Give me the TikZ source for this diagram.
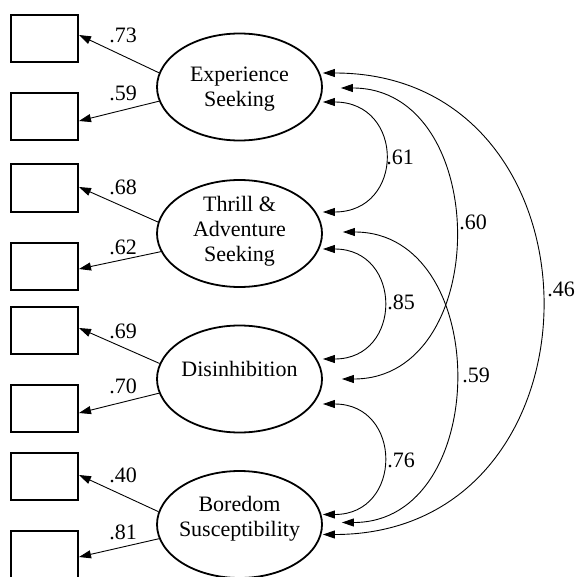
\documentclass[tikz,border=0pt]{standalone}
\usepackage{fontspec}
\setmainfont{Liberation Serif}
\usetikzlibrary{shapes.geometric,arrows.meta}
\begin{document}
\begin{tikzpicture}[x=1pt,y=-1pt,
  obs/.style={draw,line width=2pt,minimum width=67pt,minimum height=47pt,inner sep=0pt},
  lat/.style={draw,ellipse,line width=1.8pt,minimum width=165pt,minimum height=107pt,inner sep=0pt},
  lbl/.style={inner sep=0pt,font=\fontsize{22}{25}\selectfont},
  ttl/.style={inner sep=0pt,align=center,font=\fontsize{22}{25}\selectfont},
  tipA/.tip={Triangle[length=12pt,width=8pt]},
  load/.style={-tipA,line width=0.9pt},
  cov/.style={tipA-tipA,line width=0.9pt}]
\useasboundingbox (0,0) rectangle (576,577);
\clip (0,0) rectangle (576,577);
\fill[white] (0,0) rectangle (576,577);

% observed variables
\node[obs] (b1) at (44.5,38.5) {};
\node[obs] (b2) at (44.5,116.5) {};
\node[obs] (b3) at (44.5,188) {};
\node[obs] (b4) at (44.5,266) {};
\node[obs] (b5) at (44.5,330) {};
\node[obs] (b6) at (44.5,408.5) {};
\node[obs] (b7) at (44.5,476.5) {};
\node[obs] (b8) at (44.5,554.5) {};

% latent variables
\node[lat] (e1) at (239.5,87) {};
\node[lat] (e2) at (239.5,233.5) {};
\node[lat] (e3) at (239.5,379) {};
\node[lat] (e4) at (239.5,524.5) {};
\node[ttl] (t1) at (239.5,89.5) {Experience\\Seeking};
\node[ttl] (t2) at (239.5,231) {Thrill \&\\Adventure\\Seeking};
\node[ttl] (t3) at (239.5,368.5) {Disinhibition};
\node[ttl] (t4) at (239.5,519) {Boredom\\Susceptibility};

% loadings
\draw[load] (e1.170) -- ([yshift=3.5pt]b1.east);
\draw[load] (e1.190) -- ([yshift=-4.5pt]b2.east);
\draw[load] (e2.172) -- ([yshift=1pt]b3.east);
\draw[load] (e2.193) -- ([yshift=-3pt]b4.east);
\draw[load] (e3.169.5) -- ([yshift=2pt]b5.east);
\draw[load] (e3.190.5) -- ([yshift=-4.5pt]b6.east);
\draw[load] (e4.171) -- ([yshift=1.5pt]b7.east);
\draw[load] (e4.190.5) -- ([yshift=-2.5pt]b8.east);

\node[lbl] (l1) at (123,35.5) {.73};
\node[lbl] (l2) at (123,93) {.59};
\node[lbl] (l3) at (123,187) {.68};
\node[lbl] (l4) at (123,247) {.62};
\node[lbl] (l5) at (123,331) {.69};
\node[lbl] (l6) at (123,386) {.70};
\node[lbl] (l7) at (123,475) {.40};
\node[lbl] (l8) at (123,532) {.81};

% covariances
\draw[cov] ([yshift=-15pt]e1.east) .. controls +(82,0) and +(82,0) .. ([yshift=21.5pt]e2.east);
\draw[cov] ([yshift=-15.5pt]e2.east) .. controls +(80,0) and +(80,0) .. ([yshift=20pt]e3.east);
\draw[cov] ([yshift=-25pt]e3.east) .. controls +(80,0) and +(80,0) .. ([yshift=10pt]e4.east);
\draw[cov] ([xshift=18pt,yshift=-1pt]e1.east) .. controls +(151,0) and +(151,0) .. ([xshift=19pt]e3.east);
\draw[cov] ([xshift=20pt,yshift=1.5pt]e2.east) .. controls +(150,0) and +(150,0) .. ([xshift=19pt,yshift=2pt]e4.east);
\draw[cov] ([yshift=14pt]e1.east) .. controls +(291,0) and +(291,0) .. ([yshift=-10pt]e4.east);

\node[lbl] (c1) at (400,157) {.61};
\node[lbl] (c2) at (401,302) {.85};
\node[lbl] (c3) at (401,460) {.76};
\node[lbl] (c4) at (473,222) {.60};
\node[lbl] (c5) at (476,375) {.59};
\node[lbl] (c6) at (561,289) {.46};
\end{tikzpicture}
\end{document}
